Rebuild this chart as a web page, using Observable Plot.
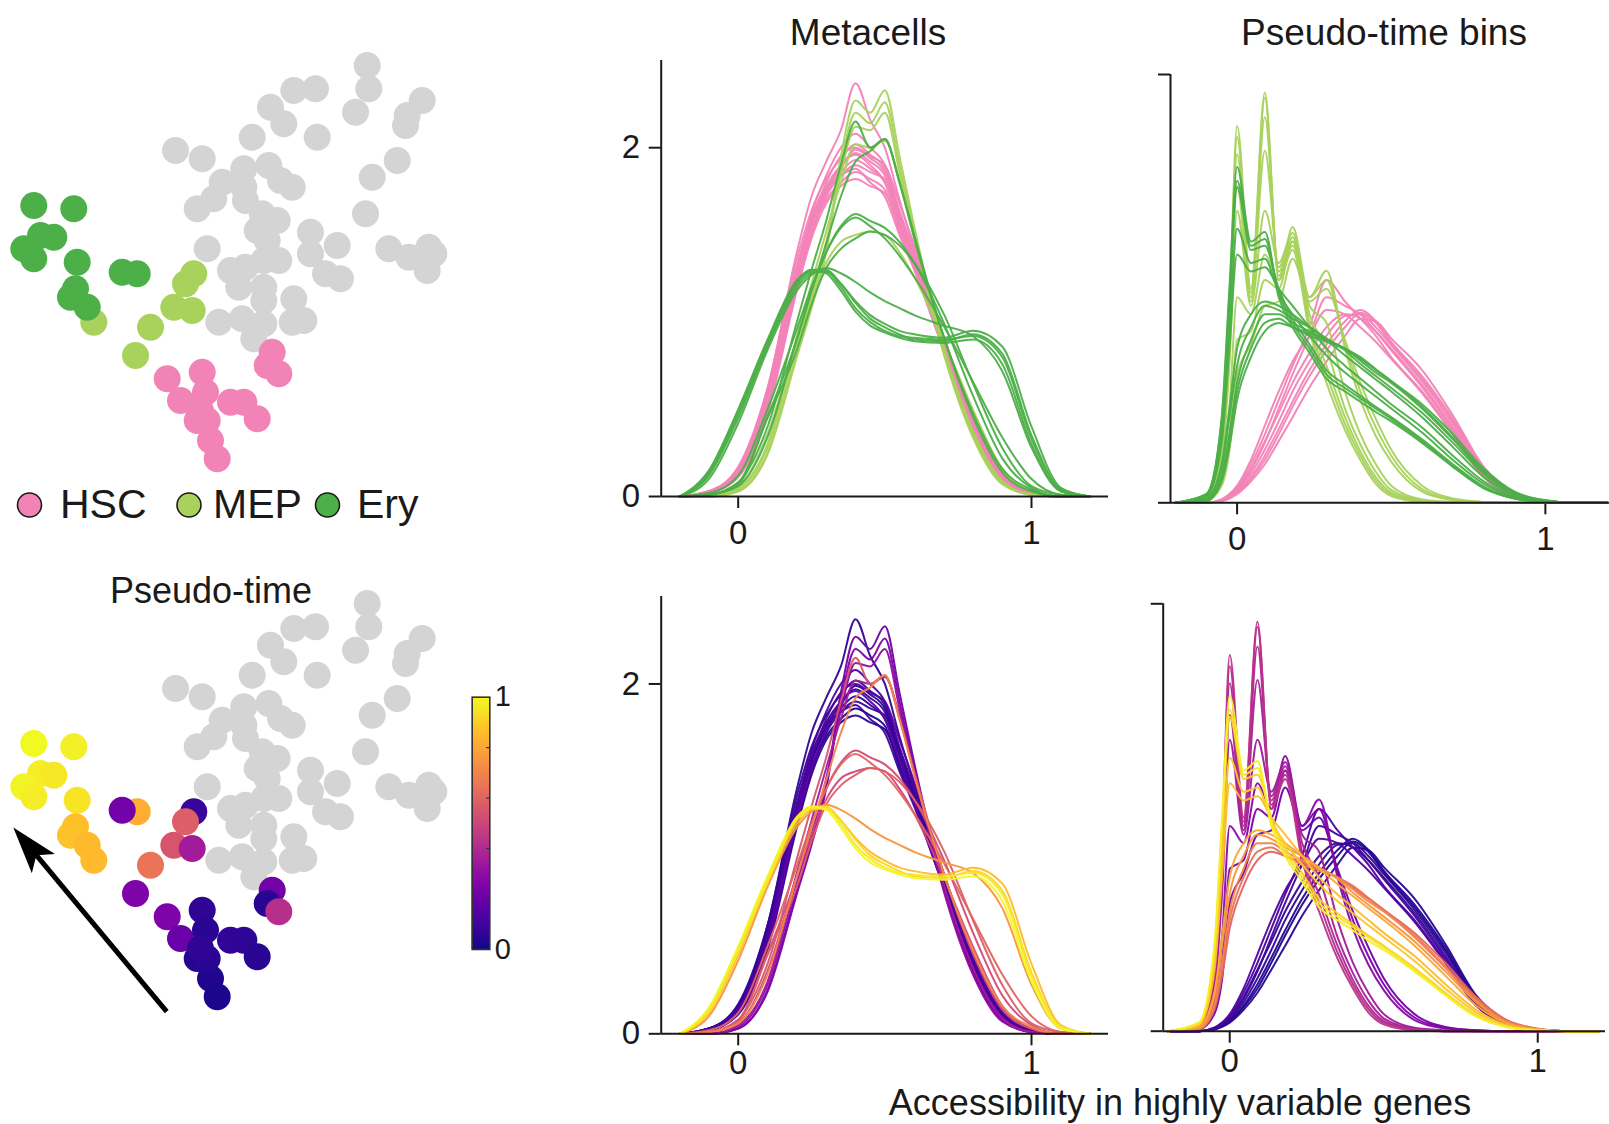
<!DOCTYPE html>
<html><head><meta charset="utf-8">
<script src="https://cdn.jsdelivr.net/npm/d3@7"></script>
<script src="https://cdn.jsdelivr.net/npm/@observablehq/plot@0.6"></script>
<style>
html,body{margin:0;padding:0;background:#fff;}
#fig{position:relative;width:1609px;height:1124px;overflow:hidden;background:#fff;font-family:"Liberation Sans",Arial,Helvetica,sans-serif;color:#1a1a1a;}
.panel{position:absolute;}
.panel svg{overflow:visible;max-width:none !important;display:block;}
.dens [aria-label*="tick"] path,.dens [aria-label*="axis"] line{stroke-width:2px;}
#overlay{position:absolute;left:0;top:0;pointer-events:none;}
</style></head><body><div id="fig"></div>
<script>
// ---------------- DATA ----------------
// Cell embedding (layout coordinates)
const grayX = [366.7,368.3,293.3,315,355,421.7,406.7,405,270,283.3,251.7,316.7,175,201.7,396.7,371.7,243.3,268.3,280,291.7,221.7,243.3,213.3,245,196.7,261.7,276.7,365,256.7,266.7,310,336.7,310,206.7,388.3,408.3,428.3,433.3,426.7,278.3,263.3,230,245,238.3,263.3,263.3,293.3,325,340,218.3,241.7,263.3,253.3,291.7,303.3];
const grayY = [65,88.3,90,88.3,111.7,100,115,125,106.7,123.3,136.7,136.7,150,158.3,160,176.7,168.3,165,180,186.7,181.7,186.7,198.3,200,208.3,213.3,220,213.3,230,240,231.7,245,253.3,248.3,248.3,256.7,246.7,253.3,270,260,260,270,266.7,286.7,286.7,300,298.3,273.3,278.3,321.7,318.3,323.3,338.3,321.7,320];
const mepX = [193.3,185,173.3,191.7,150,135,93.3];
const mepY = [273.3,283.3,306.7,310,326.7,355,321.7];
const mepTime = [0.08,0.58,0.55,0.35,0.65,0.25,0.85];
const hscX = [271.7,266.7,278.3,166.7,180,201.7,205,230,243.3,256.7,196.7,210,216.7,206.7,200];
const hscY = [351.7,365,373.3,378.3,400,371.7,391.7,401.7,401.7,418.3,420,440,458.3,420,410];
const hscTime = [0.22,0.05,0.42,0.25,0.2,0.06,0.05,0.07,0.06,0.05,0.04,0.03,0.02,0.05,0.06];
const eryX = [33.3,73.3,40,53.3,23.3,33.3,76.7,75,70,86.7,136.7,121.7];
const eryY = [205,208.3,235,236.7,248.3,258.3,261.7,288.3,296.7,306.7,273.3,271.7];
const eryTime = [1.0,0.98,0.97,0.96,0.99,0.97,0.95,0.86,0.87,0.85,0.82,0.22];

const cellTypes = ["HSC","MEP","Ery"];
const typeColors = ["#f283b7","#a8d25c","#4caf48"];
const grayColor = "#d4d4d4";

const arrowTail = [166.7, 473.7];
const arrowTip = [13.3, 289.5];

// Metacell accessibility densities
const mcX = [-0.2,-0.1,0,0.1,0.2,0.25,0.3,0.35,0.4,0.45,0.5,0.55,0.6,0.7,0.8,0.9,1.0,1.1,1.2];
const mcType = ["HSC","HSC","HSC","HSC","HSC","HSC","HSC","HSC","HSC","HSC","HSC","HSC","MEP","MEP","MEP","MEP","MEP","Ery","Ery","Ery","Ery","Ery","Ery","Ery","Ery","Ery","Ery"];
const mcTime = [0.02,0.04,0.06,0.03,0.08,0.10,0.05,0.07,0.12,0.06,0.15,0.18,0.22,0.25,0.30,0.50,0.35,0.55,0.70,0.58,0.52,0.92,0.85,1.0,0.75,0.96,0.60];
const mcCurves = [
 [0,0.02,0.12,0.52,1.22,1.52,1.70,1.80,1.86,1.82,1.76,1.52,1.32,0.86,0.40,0.11,0.01,0,0],
 [0,0.02,0.14,0.56,1.28,1.56,1.74,1.86,1.93,1.88,1.80,1.56,1.34,0.88,0.42,0.12,0.02,0,0],
 [0,0.03,0.16,0.60,1.32,1.60,1.78,1.90,1.97,1.92,1.84,1.58,1.36,0.86,0.40,0.10,0.01,0,0],
 [0,0.02,0.13,0.54,1.24,1.55,1.76,1.88,1.99,1.94,1.86,1.62,1.38,0.90,0.44,0.13,0.02,0,0],
 [0,0.02,0.12,0.50,1.20,1.50,1.72,1.84,1.90,1.86,1.82,1.60,1.40,0.92,0.45,0.14,0.02,0,0],
 [0,0.03,0.15,0.58,1.30,1.58,1.76,1.84,1.88,1.80,1.72,1.50,1.30,0.84,0.38,0.10,0.01,0,0],
 [0,0.02,0.11,0.48,1.18,1.48,1.68,1.78,1.82,1.78,1.74,1.54,1.34,0.88,0.42,0.12,0.02,0,0],
 [0,0.03,0.17,0.62,1.36,1.64,1.82,1.94,2.02,1.96,1.88,1.62,1.36,0.86,0.38,0.09,0.01,0,0],
 [0,0.02,0.14,0.56,1.30,1.62,1.84,2.00,2.08,2.00,1.90,1.64,1.40,0.90,0.42,0.12,0.02,0,0],
 [0,0.03,0.16,0.62,1.40,1.72,1.92,2.10,2.37,2.16,2.00,1.70,1.42,0.90,0.40,0.10,0.01,0,0],
 [0,0.02,0.13,0.52,1.26,1.58,1.80,1.95,2.00,1.95,1.90,1.68,1.44,0.92,0.44,0.13,0.02,0,0],
 [0,0.02,0.12,0.50,1.22,1.52,1.74,1.90,1.96,1.90,1.80,1.56,1.32,0.84,0.38,0.10,0.01,0,0],
 [0,0,0.03,0.25,0.82,1.10,1.42,1.95,2.27,2.20,2.33,1.95,1.55,0.85,0.36,0.08,0.01,0,0],
 [0,0,0.03,0.24,0.80,1.08,1.40,1.90,2.20,2.14,2.26,1.90,1.52,0.84,0.35,0.08,0.01,0,0],
 [0,0,0.04,0.28,0.86,1.14,1.46,1.85,2.12,2.10,2.20,1.86,1.50,0.82,0.34,0.07,0.01,0,0],
 [0,0.01,0.06,0.36,0.90,1.14,1.34,1.46,1.50,1.52,1.50,1.40,1.26,0.90,0.50,0.16,0.03,0,0],
 [0,0,0.05,0.30,0.92,1.22,1.52,1.80,2.02,2.00,2.04,1.82,1.50,0.86,0.38,0.09,0.01,0,0],
 [0,0.01,0.08,0.40,1.00,1.30,1.58,1.90,2.15,2.00,2.05,1.80,1.50,0.92,0.46,0.14,0.03,0,0],
 [0,0.01,0.06,0.34,0.90,1.18,1.45,1.72,1.92,1.98,2.05,1.80,1.48,0.92,0.48,0.16,0.04,0,0],
 [0,0.01,0.07,0.45,0.84,1.10,1.31,1.42,1.48,1.52,1.50,1.44,1.34,1.05,0.65,0.28,0.06,0.01,0],
 [0,0.01,0.08,0.46,0.90,1.18,1.40,1.55,1.62,1.58,1.54,1.46,1.34,1.00,0.58,0.22,0.05,0,0],
 [0,0.14,0.49,0.89,1.23,1.30,1.30,1.22,1.11,1.02,0.97,0.93,0.90,0.89,0.93,0.82,0.35,0.04,0],
 [0,0.12,0.45,0.86,1.20,1.28,1.29,1.22,1.12,1.04,0.99,0.95,0.93,0.91,0.95,0.86,0.40,0.05,0],
 [0,0.15,0.50,0.90,1.24,1.30,1.28,1.18,1.06,0.98,0.94,0.91,0.89,0.88,0.90,0.76,0.30,0.03,0],
 [0,0.10,0.42,0.84,1.18,1.27,1.31,1.28,1.23,1.17,1.12,1.08,1.04,0.98,0.92,0.72,0.28,0.03,0],
 [0,0.13,0.47,0.87,1.22,1.29,1.29,1.20,1.08,1.00,0.95,0.92,0.91,0.90,0.92,0.80,0.33,0.04,0],
 [0,0.02,0.12,0.50,0.96,1.20,1.40,1.54,1.60,1.55,1.48,1.38,1.26,0.98,0.66,0.34,0.10,0.01,0]
];

// Pseudo-time bin densities
const pbX = [-0.2,-0.1,-0.05,-0.025,0,0.045,0.09,0.135,0.18,0.235,0.29,0.35,0.4,0.45,0.5,0.6,0.7,0.8,0.9,1.0,1.1,1.2];
const pbType = ["HSC","HSC","HSC","HSC","HSC","HSC","HSC","HSC","MEP","MEP","MEP","MEP","MEP","MEP","MEP","MEP","Ery","Ery","Ery","Ery","Ery","Ery","Ery","Ery","Ery","Ery"];
const pbTime = [0.02,0.04,0.06,0.08,0.10,0.12,0.05,0.14,0.22,0.25,0.28,0.34,0.37,0.39,0.41,0.43,0.60,0.65,0.70,0.75,0.80,0.85,0.88,0.90,0.95,0.98];
const pbCurves = [
 [0,0,0.02,0.06,0.12,0.28,0.50,0.80,1.12,1.48,1.78,2.05,2.22,2.10,1.86,1.45,0.95,0.38,0.10,0.02,0,0],
 [0,0,0.02,0.06,0.12,0.30,0.55,0.86,1.18,1.55,1.85,2.12,2.25,2.12,1.88,1.48,0.98,0.40,0.11,0.02,0,0],
 [0,0,0.03,0.07,0.14,0.34,0.62,0.95,1.30,1.65,1.95,2.18,2.20,2.05,1.84,1.42,0.92,0.36,0.10,0.02,0,0],
 [0,0,0.03,0.08,0.16,0.40,0.72,1.05,1.40,1.75,2.05,2.20,2.15,2.00,1.80,1.38,0.88,0.34,0.09,0.01,0,0],
 [0,0,0.03,0.08,0.15,0.38,0.70,1.10,1.50,1.95,2.40,2.30,2.20,2.00,1.78,1.35,0.85,0.32,0.09,0.01,0,0],
 [0,0,0.04,0.10,0.18,0.45,0.80,1.20,1.60,2.05,2.60,2.35,2.15,1.95,1.70,1.30,0.82,0.30,0.08,0.01,0,0],
 [0,0,0.02,0.05,0.10,0.25,0.45,0.72,1.00,1.35,1.65,1.95,2.15,2.12,1.92,1.55,1.02,0.42,0.12,0.02,0,0],
 [0,0,0.04,0.10,0.20,0.50,0.90,1.30,1.65,1.95,2.25,2.20,2.05,1.88,1.68,1.28,0.80,0.30,0.08,0.01,0,0],
 [0,0.02,0.20,0.60,1.50,1.85,2.30,2.35,2.85,2.35,2.50,1.90,1.40,0.98,0.62,0.20,0.05,0.01,0,0,0,0],
 [0,0.02,0.25,0.80,1.90,2.00,2.60,2.50,3.05,2.40,2.60,1.85,1.30,0.88,0.55,0.16,0.04,0.01,0,0,0,0],
 [0,0.03,0.35,1.10,2.40,2.20,2.90,2.60,3.22,2.40,2.71,1.80,1.20,0.78,0.48,0.13,0.03,0,0,0,0,0],
 [0,0.04,0.50,1.60,3.41,2.30,3.41,2.80,3.15,2.30,2.10,1.30,0.80,0.45,0.20,0.04,0.01,0,0,0,0,0],
 [0,0.04,0.55,1.80,3.70,2.35,4.11,2.75,3.10,2.20,1.80,1.10,0.68,0.36,0.15,0.03,0,0,0,0,0,0],
 [0,0.05,0.60,2.00,4.07,2.40,4.50,2.70,3.05,2.10,1.60,1.00,0.60,0.30,0.12,0.02,0,0,0,0,0,0],
 [0,0.05,0.65,2.10,4.27,2.45,4.73,2.65,3.00,2.05,1.50,0.92,0.55,0.26,0.10,0.02,0,0,0,0,0,0],
 [0,0.05,0.70,2.20,4.40,2.50,4.79,2.60,2.95,2.00,1.40,0.85,0.50,0.22,0.08,0.01,0,0,0,0,0,0],
 [0,0.02,0.25,0.65,1.20,1.70,2.00,2.10,2.05,1.98,1.90,1.80,1.68,1.55,1.42,1.15,0.80,0.40,0.13,0.03,0,0],
 [0,0.03,0.30,0.75,1.30,1.80,2.10,2.15,2.05,1.95,1.88,1.80,1.70,1.56,1.42,1.12,0.76,0.38,0.12,0.03,0,0],
 [0,0.03,0.30,0.80,1.40,1.90,2.20,2.20,2.10,2.00,1.90,1.80,1.66,1.52,1.40,1.10,0.74,0.36,0.11,0.02,0,0],
 [0,0.04,0.40,1.00,1.60,2.05,2.30,2.25,2.15,2.05,1.92,1.78,1.62,1.48,1.34,1.05,0.70,0.34,0.10,0.02,0,0],
 [0,0.05,0.45,1.10,1.80,2.20,2.35,2.30,2.20,2.05,1.90,1.72,1.58,1.44,1.30,1.00,0.65,0.30,0.09,0.02,0,0],
 [0,0.07,0.70,1.80,2.90,2.70,2.75,2.50,2.30,2.05,1.80,1.60,1.45,1.30,1.15,0.88,0.55,0.25,0.07,0.01,0,0],
 [0,0.08,0.80,2.00,3.20,2.80,2.85,2.45,2.20,1.95,1.72,1.52,1.38,1.24,1.10,0.82,0.50,0.22,0.06,0.01,0,0],
 [0,0.09,0.90,2.30,3.68,2.95,3.00,2.50,2.15,1.85,1.55,1.38,1.25,1.12,1.00,0.74,0.45,0.19,0.05,0.01,0,0],
 [0,0.10,0.95,2.40,3.76,3.00,3.08,2.45,2.10,1.80,1.50,1.34,1.22,1.10,0.98,0.72,0.43,0.18,0.05,0.01,0,0],
 [0,0.10,1.00,2.50,3.92,3.05,3.16,2.40,2.05,1.75,1.45,1.30,1.18,1.06,0.95,0.70,0.42,0.17,0.05,0.01,0,0]
];

const mcTicksY = [0, 2];
const pbTicksY = [0, 5];
const xTicks = [0, 1];
const cbMinorTicks = [0.2, 0.4, 0.6, 0.8];
const cbLabels = ["0", "1"];

// ---------------- BUILD ----------------
const FONT = '"Liberation Sans", Arial, Helvetica, sans-serif';
const INK = "#1a1a1a";
const fig = document.getElementById("fig");

function place(el, left, top, w) {
  const d = document.createElement("div");
  d.className = "panel";
  d.style.left = left + "px"; d.style.top = top + "px";
  if (w) d.style.width = w + "px";
  d.appendChild(el); fig.appendChild(d); return d;
}

// cells table
const cells = [];
grayX.forEach((x, i) => cells.push({x, y: grayY[i], type: "Other", t: null}));
mepX.forEach((x, i) => cells.push({x, y: mepY[i], type: "MEP", t: mepTime[i]}));
hscX.forEach((x, i) => cells.push({x, y: hscY[i], type: "HSC", t: hscTime[i]}));
eryX.forEach((x, i) => cells.push({x, y: eryY[i], type: "Ery", t: eryTime[i]}));

const scatterBase = {
  width: 460, height: 440, margin: 0,
  x: {domain: [0, 460], axis: null},
  y: {domain: [40, 480], reverse: true, axis: null},
  style: {background: "transparent", overflow: "visible"}
};

const topScatter = Plot.plot({
  ...scatterBase,
  color: {domain: cellTypes, range: typeColors},
  marks: [
    Plot.dot(cells.filter(d => d.type === "Other"), {x: "x", y: "y", r: 13.5, fill: grayColor}),
    Plot.dot(cells.filter(d => d.type !== "Other"), {x: "x", y: "y", r: 13.5, fill: "type"})
  ]
});
place(topScatter, 0, 40, 460);

function arrowMark(index, scales) {
  const ns = "http://www.w3.org/2000/svg";
  const sx = scales && typeof scales.x === "function" ? scales.x : (v => v);
  const sy = scales && typeof scales.y === "function" ? scales.y : (v => v - 40);
  const x0 = sx(arrowTail[0]), y0 = sy(arrowTail[1]);
  const x1 = sx(arrowTip[0]), y1 = sy(arrowTip[1]);
  const dx = x1 - x0, dy = y1 - y0, L = Math.hypot(dx, dy);
  const ux = dx / L, uy = dy / L, px = -uy, py = ux;
  const head = 47, half = 15, notch = 11;
  const g = document.createElementNS(ns, "g");
  const line = document.createElementNS(ns, "line");
  line.setAttribute("x1", x0); line.setAttribute("y1", y0);
  line.setAttribute("x2", x1 - ux * (head - notch - 2)); line.setAttribute("y2", y1 - uy * (head - notch - 2));
  line.setAttribute("stroke", "#000"); line.setAttribute("stroke-width", 5);
  g.appendChild(line);
  const bx = x1 - ux * head, by = y1 - uy * head;
  const pts = [[x1, y1], [bx + px * half, by + py * half], [x1 - ux * (head - notch), y1 - uy * (head - notch)], [bx - px * half, by - py * half]];
  const poly = document.createElementNS(ns, "polygon");
  poly.setAttribute("points", pts.map(p => p.join(",")).join(" "));
  poly.setAttribute("fill", "#000");
  g.appendChild(poly);
  return g;
}

const bottomScatter = Plot.plot({
  ...scatterBase,
  color: {type: "linear", scheme: "plasma", domain: [0, 1]},
  marks: [
    Plot.dot(cells.filter(d => d.type === "Other"), {x: "x", y: "y", r: 13.5, fill: grayColor}),
    Plot.dot(cells.filter(d => d.type !== "Other"), {x: "x", y: "y", r: 13.5, fill: "t"}),
    arrowMark
  ]
});
place(bottomScatter, 0, 578, 460);

// colorbar
function gradientMark(index, scales, values, dims) {
  const ns = "http://www.w3.org/2000/svg";
  const g = document.createElementNS(ns, "g");
  const defs = document.createElementNS(ns, "defs");
  const lg = document.createElementNS(ns, "linearGradient");
  lg.setAttribute("id", "plasmaRamp");
  lg.setAttribute("x1", "0"); lg.setAttribute("y1", "1"); lg.setAttribute("x2", "0"); lg.setAttribute("y2", "0");
  d3.range(0, 1.0001, 0.05).forEach(v => {
    const s = document.createElementNS(ns, "stop");
    s.setAttribute("offset", v); s.setAttribute("stop-color", d3.interpolatePlasma(v));
    lg.appendChild(s);
  });
  defs.appendChild(lg); g.appendChild(defs);
  const W = dims && dims.width ? dims.width : 90, H = dims && dims.height ? dims.height : 290;
  const ml = dims && dims.marginLeft != null ? dims.marginLeft : 31.7, mr = dims && dims.marginRight != null ? dims.marginRight : 40.7;
  const mt = dims && dims.marginTop != null ? dims.marginTop : 16.7, mb = dims && dims.marginBottom != null ? dims.marginBottom : 21;
  const r = document.createElementNS(ns, "rect");
  r.setAttribute("x", ml); r.setAttribute("y", mt);
  r.setAttribute("width", W - ml - mr); r.setAttribute("height", H - mt - mb);
  r.setAttribute("fill", "url(#plasmaRamp)");
  g.appendChild(r);
  return g;
}
const colorbar = Plot.plot({
  width: 90, height: 290, marginLeft: 31.7, marginRight: 40.7, marginTop: 16.7, marginBottom: 21,
  x: {domain: [0, 1], axis: null}, y: {domain: [0, 1], axis: null},
  style: {background: "transparent", overflow: "visible", fontFamily: FONT, color: INK},
  marks: [
    gradientMark,
    Plot.ruleY(cbMinorTicks, {x1: 0.82, x2: 1, stroke: "#333", strokeWidth: 1.2}),
    Plot.frame({stroke: "#333", strokeWidth: 1.6}),
    Plot.text(cbLabels, {x: 1, y: d => +d, text: d => d, dx: 5, textAnchor: "start", fontSize: 29, fill: INK})
  ]
});
place(colorbar, 440, 680, 90);

// density panels
function rowsFor(xs, curves, types, times, order) {
  const idx = d3.range(curves.length);
  if (order === "type") idx.sort((a, b) => cellTypes.indexOf(types[a]) - cellTypes.indexOf(types[b]) || a - b);
  else idx.sort((a, b) => times[a] - times[b]);
  const rows = [];
  idx.forEach(i => curves[i].forEach((y, j) => rows.push({x: xs[j], y, id: i, type: types[i], t: times[i]})));
  return rows;
}

function density({rows, by, xDomain, yDomain, yTicks, yLabels, width, height, ml, mr, mt, mb, pad}) {
  const p = Plot.plot({
    width, height, marginLeft: ml, marginRight: mr, marginTop: mt, marginBottom: mb,
    style: {fontFamily: FONT, fontSize: "33px", color: INK, background: "transparent", overflow: "visible"},
    x: {domain: xDomain, ticks: xTicks, tickSize: 12, tickPadding: pad, label: null, tickFormat: d => String(d)},
    y: {domain: yDomain, ticks: yTicks, tickSize: 12, tickPadding: 9, label: null, tickFormat: yLabels ? (d => String(d)) : (() => "")},
    color: by === "type" ? {domain: cellTypes, range: typeColors} : {type: "linear", scheme: "plasma", domain: [0, 1]},
    marks: [
      Plot.line(rows, {x: "x", y: "y", z: "id", stroke: by, strokeWidth: 2, strokeOpacity: 0.95, curve: "monotone-x"}),
      Plot.ruleY([0], {stroke: INK, strokeWidth: 2}),
      Plot.ruleX([xDomain[0]], {stroke: INK, strokeWidth: 2})
    ]
  });
  p.classList.add("dens");
  return p;
}

const mcDomain = [-0.2625, 1.2625];
const pbDomain = [-0.216, 1.22];

place(density({rows: rowsFor(mcX, mcCurves, mcType, mcTime, "type"), by: "type", xDomain: mcDomain, yDomain: [0, 2.5], yTicks: mcTicksY, yLabels: true,
  width: 560, height: 540, ml: 100.7, mr: 12, mt: 40, mb: 64, pad: 12}), 560, 20, 560);
place(density({rows: rowsFor(mcX, mcCurves, mcType, mcTime, "time"), by: "t", xDomain: mcDomain, yDomain: [0, 2.5], yTicks: mcTicksY, yLabels: true,
  width: 560, height: 540, ml: 100.7, mr: 12, mt: 40, mb: 62.7, pad: 5}), 560, 556, 560);
place(density({rows: rowsFor(pbX, pbCurves, pbType, pbTime, "type"), by: "type", xDomain: pbDomain, yDomain: [0, 5], yTicks: pbTicksY, yLabels: false,
  width: 500, height: 540, ml: 50, mr: 7.3, mt: 54, mb: 57.7, pad: 12}), 1120, 20, 500);
place(density({rows: rowsFor(pbX, pbCurves, pbType, pbTime, "time"), by: "t", xDomain: pbDomain, yDomain: [0, 5], yTicks: pbTicksY, yLabels: false,
  width: 510, height: 540, ml: 52.7, mr: 15, mt: 47.3, mb: 65.3, pad: 5}), 1110, 556, 510);

// overlay texts and legend
const ov = d3.select(fig).append("svg").attr("id", "overlay").attr("width", 1609).attr("height", 1124)
  .style("font-family", FONT).style("fill", INK);
const texts = [
  {t: "Metacells", x: 868, y: 45, s: 37, a: "middle"},
  {t: "Pseudo-time bins", x: 1384, y: 45, s: 37, a: "middle"},
  {t: "Pseudo-time", x: 211, y: 603, s: 36, a: "middle"},
  {t: "Accessibility in highly variable genes", x: 1180, y: 1115, s: 36, a: "middle"}
];
texts.forEach(d => ov.append("text").attr("x", d.x).attr("y", d.y).attr("font-size", d.s).attr("text-anchor", d.a).text(d.t));
const legendItems = [
  {label: "HSC", cx: 29.5, tx: 60},
  {label: "MEP", cx: 189, tx: 213},
  {label: "Ery", cx: 327.5, tx: 357}
];
legendItems.forEach((d, i) => {
  ov.append("circle").attr("cx", d.cx).attr("cy", 505).attr("r", 12).attr("fill", typeColors[i]).attr("stroke", "#1a1a1a").attr("stroke-width", 1.6);
  ov.append("text").attr("x", d.tx).attr("y", 518).attr("font-size", 41).text(d.label);
});
</script></body></html>
